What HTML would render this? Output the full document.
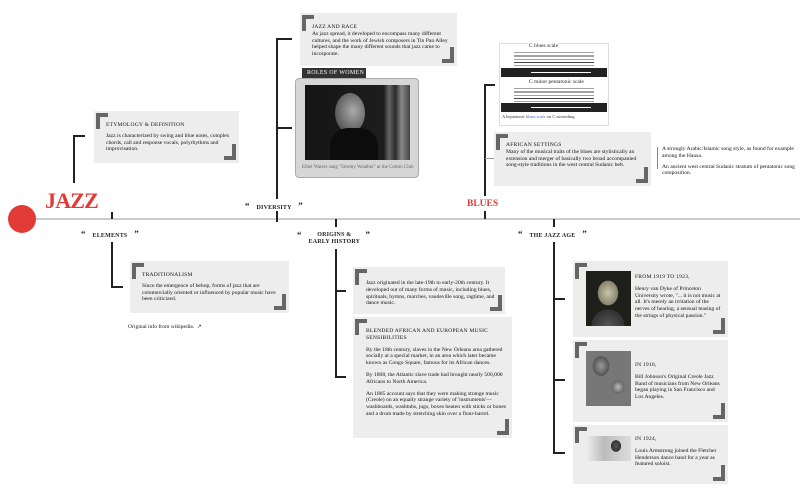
<!DOCTYPE html>
<html><head><meta charset="utf-8"><style>
*{margin:0;padding:0;box-sizing:border-box}
body{width:800px;height:495px;background:#fff;position:relative;overflow:hidden;font-family:"Liberation Serif",serif;color:#222}
.a{position:absolute}
.box{position:absolute;background:#ededed}
.box:before{content:"";position:absolute;left:2px;top:2px;width:8px;height:12px;border-left:4px solid #666;border-top:4px solid #666}
.box:after{content:"";position:absolute;right:3px;bottom:3px;width:8px;height:12px;border-right:4px solid #666;border-bottom:4px solid #666}
.t{position:absolute;font-size:5.6px;line-height:6.8px;color:#111}
.h{font-size:5.6px;letter-spacing:.2px;color:#111}
.v{position:absolute;width:1.5px;background:#222}
.hl{position:absolute;height:1.5px;background:#222}
.lab{position:absolute;font-size:6px;font-weight:bold;color:#222;letter-spacing:.2px;white-space:nowrap}
.q{font-size:9px;font-weight:bold}
.img{position:absolute}
</style></head><body>
<div class="a" style="left:30px;top:218px;width:770px;height:1.5px;background:#ccc"></div>
<div class="a" style="left:8px;top:205px;width:28px;height:28px;border-radius:50%;background:#e23a36"></div>
<div class="a" style="left:45px;top:188px;font-size:22px;font-weight:bold;color:#e23a36;letter-spacing:-0.8px">JAZZ</div>

<div class="v" style="left:73px;top:135px;height:48px"></div>
<div class="hl" style="left:73px;top:135px;width:12px"></div>
<div class="box" style="left:94px;top:111px;width:145px;height:52px"></div>
<div class="t" style="left:106px;top:122px;width:128px"><div class="h">ETYMOLOGY &amp; DEFINITION</div><div style="margin-top:4px">Jazz is characterized by swing and blue notes, complex chords, call and response vocals, polyrhythms and improvisation.</div></div>

<div class="lab" style="left:81px;top:229px"><span class="q">“</span>&nbsp;&nbsp;&nbsp; ELEMENTS &nbsp;&nbsp;&nbsp;<span class="q">”</span></div>
<div class="v" style="left:111px;top:212px;height:7px"></div>
<div class="v" style="left:111px;top:242px;height:45px"></div>
<div class="hl" style="left:111px;top:286px;width:12px"></div>
<div class="box" style="left:130px;top:261px;width:159px;height:52px"></div>
<div class="t" style="left:142px;top:272px;width:140px"><div class="h">TRADITIONALISM</div><div style="margin-top:4px">Since the emergence of bebop, forms of jazz that are commercially oriented or influenced by popular music have been criticized.</div></div>
<div class="t" style="left:128px;top:324px">Original info from wikipedia. &nbsp;↗</div>

<div class="lab" style="left:245px;top:201px"><span class="q">“</span>&nbsp;&nbsp;&nbsp; DIVERSITY &nbsp;&nbsp;&nbsp;<span class="q">”</span></div>
<div class="v" style="left:276px;top:38px;height:161px"></div>
<div class="v" style="left:276px;top:211px;height:11px"></div>
<div class="hl" style="left:276px;top:38px;width:16px"></div>
<div class="hl" style="left:276px;top:127px;width:16px"></div>
<div class="box" style="left:300px;top:13px;width:157px;height:53px"></div>
<div class="t" style="left:312px;top:24px;width:140px"><div class="h">JAZZ AND RACE</div>As jazz spread, it developed to encompass many different cultures, and the work of Jewish composers in Tin Pan Alley helped shape the many different sounds that jazz came to incorporate.</div>
<div class="a" style="left:302px;top:68px;width:64px;height:11px;background:#333;color:#fff;font-size:6px;line-height:11px;padding-left:5px;letter-spacing:.3px">ROLES OF WOMEN</div>
<div class="a" style="left:295px;top:78px;width:124px;height:100px;background:#d6d6d6;border:1px solid #aaa;border-radius:4px"></div>
<div class="img" style="left:305px;top:85px;width:105px;height:75px;background:linear-gradient(90deg,#151515 0,#1d1d1d 75%,#666 80%,#2a2a2a 86%,#888 92%,#444 100%)"></div>
<div class="img" style="left:335px;top:93px;width:30px;height:40px;border-radius:50%;background:radial-gradient(ellipse at 60% 45%,#aaa,#666 60%,#333)"></div>
<div class="img" style="left:330px;top:128px;width:48px;height:32px;background:#0c0c0c;border-radius:18px 18px 0 0"></div>
<div class="t" style="left:302px;top:165px;font-size:5px;color:#666">Ethel Waters sang "Stormy Weather" at the Cotton Club</div>

<div class="a" style="left:467px;top:199px;font-size:9.5px;font-weight:bold;color:#e23a36">BLUES</div>
<div class="v" style="left:484px;top:84px;height:112px"></div>
<div class="v" style="left:484px;top:211px;height:8px"></div>
<div class="hl" style="left:484px;top:84px;width:11px"></div>
<div class="a" style="left:485px;top:158px;width:10px;height:1px;background:#999"></div>
<div class="a" style="left:499px;top:43px;width:110px;height:83px;background:#fff;border:1px solid #ddd"></div>
<div class="a" style="left:514px;top:50px;width:80px;height:16px;background:repeating-linear-gradient(#fff 0 2.5px,#444 2.5px 3.2px)"></div>
<div class="a" style="left:529px;top:43px;font-size:5.5px;background:#fff">C blues scale</div>
<div class="a" style="left:501px;top:68px;width:106px;height:9px;background:#222"><div style="position:absolute;left:30px;top:4px;width:60px;height:1px;background:#fff"></div></div>
<div class="a" style="left:514px;top:86px;width:80px;height:16px;background:repeating-linear-gradient(#fff 0 2.5px,#444 2.5px 3.2px)"></div>
<div class="a" style="left:529px;top:79px;font-size:5.5px;background:#fff">C minor pentatonic scale</div>
<div class="a" style="left:501px;top:103px;width:106px;height:9px;background:#222"><div style="position:absolute;left:30px;top:4px;width:60px;height:1px;background:#fff"></div></div>
<div class="a" style="left:502px;top:114px;font-size:4.5px;color:#333">A heptatonic <span style="color:#36c">blues scale</span> on C ascending</div>
<div class="box" style="left:494px;top:132px;width:157px;height:54px"></div>
<div class="t" style="left:506px;top:142px;width:140px"><div class="h">AFRICAN SETTINGS</div>Many of the musical traits of the blues are stylistically an extension and merger of basically two broad accompanied song-style traditions in the west central Sudanic belt.</div>
<div class="a" style="left:657px;top:147px;width:1px;height:22px;background:#888"></div>
<div class="t" style="left:662px;top:146px;width:135px">A strongly Arabic/Islamic song style, as found for example among the Hausa.<br><span style="display:block;margin-top:4px">An ancient west central Sudanic stratum of pentatonic song composition.</span></div>

<div class="lab" style="left:297px;top:232px;text-align:center;line-height:7px"><span class="q" style="vertical-align:-2px">“</span>&nbsp;&nbsp;&nbsp;&nbsp;<span style="display:inline-block;vertical-align:top">ORIGINS &amp;<br>EARLY HISTORY</span>&nbsp;&nbsp;&nbsp;<span class="q" style="vertical-align:-2px">”</span></div>
<div class="v" style="left:335px;top:219px;height:8px"></div>
<div class="v" style="left:335px;top:249px;height:128px"></div>
<div class="hl" style="left:335px;top:290px;width:11px"></div>
<div class="hl" style="left:335px;top:376px;width:11px"></div>
<div class="box" style="left:353px;top:267px;width:152px;height:47px"></div>
<div class="t" style="left:366px;top:280px;width:134px">Jazz originated in the late-19th to early-20th century. It developed out of many forms of music, including blues, spirituals, hymns, marches, vaudeville song, ragtime, and dance music.</div>
<div class="box" style="left:353px;top:317px;width:159px;height:121px"></div>
<div class="t" style="left:366px;top:328px;width:140px"><div class="h">BLENDED AFRICAN AND EUROPEAN MUSIC SENSIBILITIES</div><div style="margin-top:5px">By the 18th century, slaves in the New Orleans area gathered socially at a special market, in an area which later became known as Congo Square, famous for its African dances.</div><div style="margin-top:5px">By 1808, the Atlantic slave trade had brought nearly 500,000 Africans to North America.</div><div style="margin-top:5px">An 1885 account says that they were making strange music (Creole) on an equally strange variety of 'instruments'—washboards, washtubs, jugs, boxes beaten with sticks or bones and a drum made by stretching skin over a flour-barrel.</div></div>

<div class="lab" style="left:518px;top:229px"><span class="q">“</span>&nbsp;&nbsp;&nbsp; THE JAZZ AGE &nbsp;&nbsp;&nbsp;<span class="q">”</span></div>
<div class="v" style="left:553px;top:219px;height:8px"></div>
<div class="v" style="left:553px;top:242px;height:211px"></div>
<div class="hl" style="left:553px;top:298px;width:12px"></div>
<div class="hl" style="left:553px;top:379px;width:12px"></div>
<div class="hl" style="left:553px;top:452px;width:12px"></div>
<div class="box" style="left:573px;top:261px;width:155px;height:76px"></div>
<div class="img" style="left:586px;top:271px;width:45px;height:55px;background:radial-gradient(ellipse 14px 17px at 22px 22px,#c9c3a8,#8a8570 70%,transparent 75%),radial-gradient(ellipse 20px 20px at 22px 55px,#555,#333 80%,transparent 85%),#1e1e1a"></div>
<div class="t" style="left:635px;top:274px;width:88px"><div class="h">FROM 1919 TO 1923,</div><div style="margin-top:5px">Henry van Dyke of Princeton University wrote, "... it is not music at all. It's merely an irritation of the nerves of hearing, a sensual teasing of the strings of physical passion."</div></div>
<div class="box" style="left:573px;top:340px;width:155px;height:82px"></div>
<div class="img" style="left:586px;top:351px;width:45px;height:55px;background:radial-gradient(ellipse 10px 12px at 15px 15px,#999,#555 80%,transparent 85%),radial-gradient(circle 9px at 32px 36px,#bbb,#666 70%,transparent 75%),#777"></div>
<div class="t" style="left:635px;top:362px;width:88px"><div class="h">IN 1910,</div><div style="margin-top:5px">Bill Johnson's Original Creole Jazz Band of musicians from New Orleans began playing in San Francisco and Los Angeles.</div></div>
<div class="box" style="left:573px;top:425px;width:155px;height:59px"></div>
<div class="img" style="left:586px;top:436px;width:45px;height:25px;background:radial-gradient(ellipse 7px 8px at 30px 10px,#555,#333 70%,transparent 75%),linear-gradient(90deg,#eee,#bbb 40%,#ddd)"></div>
<div class="t" style="left:635px;top:436px;width:88px"><div class="h">IN 1924,</div><div style="margin-top:5px">Louis Armstrong joined the Fletcher Henderson dance band for a year as featured soloist.</div></div>
</body></html>
